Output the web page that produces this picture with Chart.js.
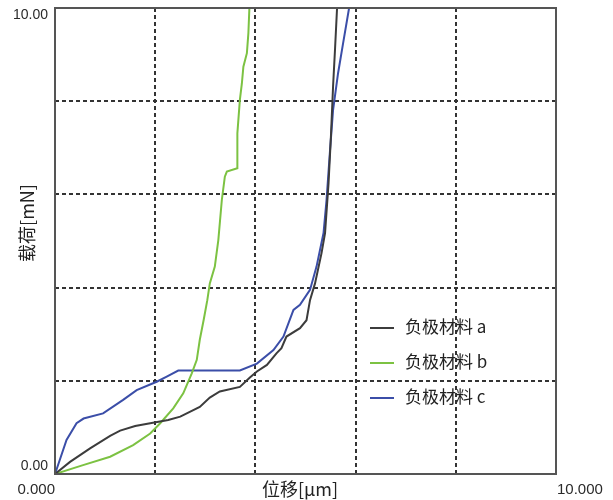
<!DOCTYPE html>
<html>
<head>
<meta charset="utf-8">
<script src="https://cdn.jsdelivr.net/npm/chart.js@4"></script>
<style>
  html, body { margin: 0; padding: 0; background: #fff; }
  #wrap { width: 613px; height: 500px; }
</style>
</head>
<body>
<div id="wrap"><canvas id="loadChart" width="613" height="500"></canvas></div>
<script>
// 负极材料 a
const dispA = [0, 0.3, 0.7, 1.1, 1.3, 1.6, 1.9, 2.26, 2.5, 2.89, 3.09, 3.29, 3.69, 3.89, 4.03, 4.23, 4.42, 4.52, 4.62, 4.89, 5.02, 5.09, 5.19, 5.32, 5.39, 5.46, 5.51, 5.55, 5.59, 5.63];
const loadA = [0, 0.26, 0.55, 0.82, 0.93, 1.03, 1.09, 1.16, 1.23, 1.44, 1.64, 1.77, 1.87, 2.07, 2.2, 2.34, 2.59, 2.7, 2.95, 3.13, 3.3, 3.73, 4.09, 4.74, 5.17, 6.24, 7.3, 8.31, 9.13, 10.0];
// 负极材料 b
const dispB = [0, 0.56, 1.1, 1.56, 1.9, 2.1, 2.36, 2.56, 2.73, 2.83, 2.89, 2.97, 3.04, 3.09, 3.19, 3.26, 3.33, 3.39, 3.43, 3.64, 3.64, 3.69, 3.73, 3.76, 3.83, 3.86, 3.88];
const loadB = [0, 0.19, 0.37, 0.62, 0.87, 1.09, 1.41, 1.73, 2.16, 2.45, 2.88, 3.32, 3.73, 4.09, 4.45, 5.02, 5.88, 6.38, 6.49, 6.56, 7.31, 8.03, 8.38, 8.74, 9.03, 9.46, 10.0];
// 负极材料 c
const dispC = [0, 0.23, 0.43, 0.57, 0.96, 1.36, 1.63, 2.03, 2.23, 2.46, 3.69, 4.03, 4.36, 4.56, 4.76, 4.89, 5.09, 5.22, 5.36, 5.42, 5.49, 5.55, 5.65, 5.75, 5.87];
const loadC = [0, 0.73, 1.09, 1.19, 1.3, 1.59, 1.8, 1.98, 2.09, 2.22, 2.22, 2.37, 2.66, 2.95, 3.52, 3.63, 3.95, 4.45, 5.17, 5.88, 6.95, 7.81, 8.6, 9.24, 10.0];

const seriesNames = ["负极材料 a", "负极材料 b", "负极材料 c"];
const seriesColors = ["#3c3c3c", "#7cc242", "#3b4ea8"];
const xTickLabels = ["0.000", "10.000"];
const yTickLabels = ["0.00", "10.00"];
const xTitle = "位移[μm]";
const yTitle = "载荷[mN]";

function toPoints(xs, ys) {
  return xs.map((x, i) => ({ x: x, y: ys[i] }));
}

const cjk = '"Noto Sans CJK SC", "Noto Sans", sans-serif';
const num = '"Liberation Sans", Arial, sans-serif';

// frame, tick labels, titles and legend drawn on top of the plot
const decor = {
  id: "decor",
  afterDatasetsDraw(chart) {
    const { ctx, chartArea: a, scales } = chart;
    const xs = scales.x, ys = scales.y;
    ctx.save();
    ctx.strokeStyle = "#555";
    ctx.lineWidth = 2;
    ctx.strokeRect(a.left, a.top, a.right - a.left, a.bottom - a.top);

    ctx.fillStyle = "#2a2a2a";
    ctx.font = "14px " + num;
    ctx.textAlign = "right";
    ctx.textBaseline = "middle";
    ctx.fillText(yTickLabels[0], a.left - 7, ys.getPixelForValue(0) - 8);
    ctx.fillText(yTickLabels[1], a.left - 7, ys.getPixelForValue(10) + 7);

    ctx.font = "15px " + num;
    ctx.textAlign = "right";
    ctx.fillText(xTickLabels[0], xs.getPixelForValue(0), a.bottom + 16);
    ctx.textAlign = "left";
    ctx.fillText(xTickLabels[1], xs.getPixelForValue(10) + 1, a.bottom + 16);

    ctx.fillStyle = "#222";
    ctx.font = "18px " + cjk;
    ctx.textAlign = "center";
    ctx.fillText(xTitle, 300, a.bottom + 15);
    ctx.save();
    ctx.translate(27, 223);
    ctx.rotate(-Math.PI / 2);
    ctx.fillText(yTitle, 0, 0);
    ctx.restore();

    ctx.font = "17px " + cjk;
    ctx.textAlign = "left";
    const rowY = [327, 362, 397];
    seriesNames.forEach((name, i) => {
      ctx.strokeStyle = seriesColors[i];
      ctx.lineWidth = 2;
      ctx.beginPath();
      ctx.moveTo(370, rowY[i] + 1);
      ctx.lineTo(394, rowY[i] + 1);
      ctx.stroke();
      ctx.fillStyle = "#222";
      ctx.fillText(name, 405, rowY[i]);
    });
    ctx.restore();
  }
};

new Chart(document.getElementById("loadChart"), {
  type: "line",
  data: {
    datasets: [
      { label: seriesNames[0], data: toPoints(dispA, loadA), borderColor: seriesColors[0] },
      { label: seriesNames[1], data: toPoints(dispB, loadB), borderColor: seriesColors[1] },
      { label: seriesNames[2], data: toPoints(dispC, loadC), borderColor: seriesColors[2] }
    ]
  },
  options: {
    responsive: false,
    animation: false,
    layout: { padding: { left: 55, top: 8, right: 57, bottom: 26 } },
    elements: {
      line: { borderWidth: 2, tension: 0, fill: false },
      point: { radius: 0 }
    },
    plugins: { legend: { display: false }, tooltip: { enabled: false } },
    scales: {
      x: {
        type: "linear", min: 0, max: 10,
        ticks: { stepSize: 2, display: false },
        grid: { color: "#333", lineWidth: 2, drawTicks: false },
        border: { display: false, dash: [4, 3] }
      },
      y: {
        type: "linear", min: 0, max: 10,
        ticks: { stepSize: 2, display: false },
        grid: { color: "#333", lineWidth: 2, drawTicks: false },
        border: { display: false, dash: [4, 3] }
      }
    }
  },
  plugins: [decor]
});
</script>
</body>
</html>
